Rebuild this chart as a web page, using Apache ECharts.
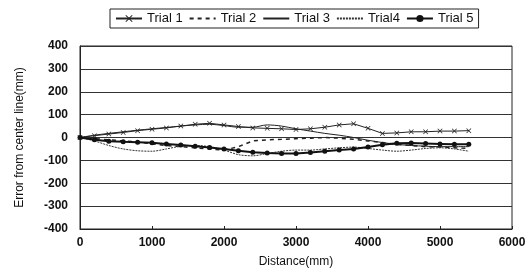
<!DOCTYPE html>
<html>
<head>
<meta charset="utf-8">
<script src="https://cdn.jsdelivr.net/npm/echarts@6/dist/echarts.min.js"></script>
<style>
html, body { margin: 0; padding: 0; background: #fff; }
#main { width: 529px; height: 279px; }
</style>
</head>
<body>
<div id="main"></div>
<script>
var distance = [0, 200, 400, 600, 800, 1000, 1200, 1400, 1600, 1800, 2000, 2200, 2400, 2600,
    2800, 3000, 3200, 3400, 3600, 3800, 4000, 4200, 4400, 4600, 4800, 5000, 5200, 5400];
var trial1 = [0, 8, 15, 22, 30, 36, 42, 50, 58, 62, 55, 48, 42, 40,
    38, 35, 38, 45, 55, 60, 40, 18, 20, 25, 25, 28, 28, 30];
var trial2 = [0, -5, -10, -15, -20, -28, -35, -40, -45, -50, -55, -40, -15, -10,
    -8, -5, -3, 0, -3, -8, -15, -22, -30, -35, -40, -42, -45, -48];
var trial3 = [0, 10, 18, 25, 32, 38, 44, 50, 55, 58, 52, 45, 45, 55,
    50, 38, 28, 18, 10, 0, -12, -22, -30, -35, -38, -40, -40, -40];
var trial4 = [0, -15, -35, -50, -58, -60, -50, -38, -35, -40, -55, -75, -80, -70,
    -60, -55, -55, -50, -45, -42, -48, -55, -60, -55, -48, -45, -50, -60];
var trial5 = [0, -10, -16, -19, -21, -23, -28, -33, -38, -44, -50, -58, -64, -68,
    -70, -70, -66, -60, -55, -50, -42, -32, -25, -24, -26, -28, -30, -30];
var names = ['Trial 1', 'Trial 2', 'Trial 3', 'Trial4', 'Trial 5'];
var yTicks = [-400, -300, -200, -100, 0, 100, 200, 300, 400];

function pairs(ys) {
    return distance.map(function (d, i) { return [d, ys[i]]; });
}

var cross = 'path://M0,1L1,0L5,4L9,0L10,1L6,5L10,9L9,10L5,6L1,10L0,9L4,5Z';
var font = 'Liberation Sans';
var ink = '#111';

var myChart = echarts.init(document.getElementById('main'));

var option = {
    animation: false,
    textStyle: { fontFamily: font, color: ink },
    legend: {
        data: [
            { name: names[0] },
            { name: names[1], itemStyle: { opacity: 0 } },
            { name: names[2], itemStyle: { opacity: 0 } },
            { name: names[3], itemStyle: { opacity: 0 } },
            { name: names[4] }
        ],
        top: 9,
        left: 110,
        itemGap: 6,
        itemWidth: 26,
        itemHeight: 9,
        padding: [3, 5],
        borderColor: '#222',
        borderWidth: 1,
        textStyle: { fontSize: 13, color: ink, fontFamily: font }
    },
    grid: {
        left: 80, right: 17, top: 46, bottom: 50,
        show: true,
        borderColor: '#222',
        borderWidth: 1
    },
    xAxis: {
        type: 'value',
        min: 0, max: 6000, interval: 1000,
        name: 'Distance(mm)',
        nameLocation: 'middle',
        nameGap: 27,
        nameTextStyle: { fontSize: 12, color: ink },
        axisLine: { onZero: false, lineStyle: { color: '#222' } },
        axisTick: { inside: true, length: 3, lineStyle: { color: '#222' } },
        axisLabel: {
            fontSize: 12, color: ink, margin: 8, fontWeight: 'bold',
            formatter: function (v) { return String(v); }
        },
        splitLine: { show: false }
    },
    yAxis: {
        type: 'value',
        min: -400, max: 400, interval: 100,
        name: 'Error from center line(mm)',
        nameLocation: 'middle',
        nameGap: 54,
        nameTextStyle: { fontSize: 12, color: ink },
        axisLine: { lineStyle: { color: '#222' } },
        axisTick: { show: false },
        axisLabel: {
            fontSize: 12, color: ink, margin: 12, fontWeight: 'bold',
            formatter: function (v) { return yTicks.indexOf(v) >= 0 ? String(v) : ''; }
        },
        splitLine: { lineStyle: { color: '#333', width: 1 } }
    },
    series: [{
        name: names[0],
        type: 'line',
        data: pairs(trial1),
        symbol: cross,
        symbolSize: 5,
        lineStyle: { color: '#222', width: 1 },
        itemStyle: { color: '#222' }
    }, {
        name: names[1],
        type: 'line',
        data: pairs(trial2),
        symbol: 'none',
        lineStyle: { color: '#222', width: 1.5, type: [4, 4] },
        itemStyle: { color: '#222' }
    }, {
        name: names[2],
        type: 'line',
        data: pairs(trial3),
        symbol: 'none',
        smooth: 0.3,
        lineStyle: { color: '#222', width: 1 },
        itemStyle: { color: '#222' }
    }, {
        name: names[3],
        type: 'line',
        data: pairs(trial4),
        symbol: 'none',
        smooth: 0.3,
        lineStyle: { color: '#333', width: 1, type: [2, 1] },
        itemStyle: { color: '#333' }
    }, {
        name: names[4],
        type: 'line',
        data: pairs(trial5),
        symbol: 'circle',
        symbolSize: 5,
        lineStyle: { color: '#111', width: 2 },
        itemStyle: { color: '#111' }
    }]
};

myChart.setOption(option);
</script>
</body>
</html>
